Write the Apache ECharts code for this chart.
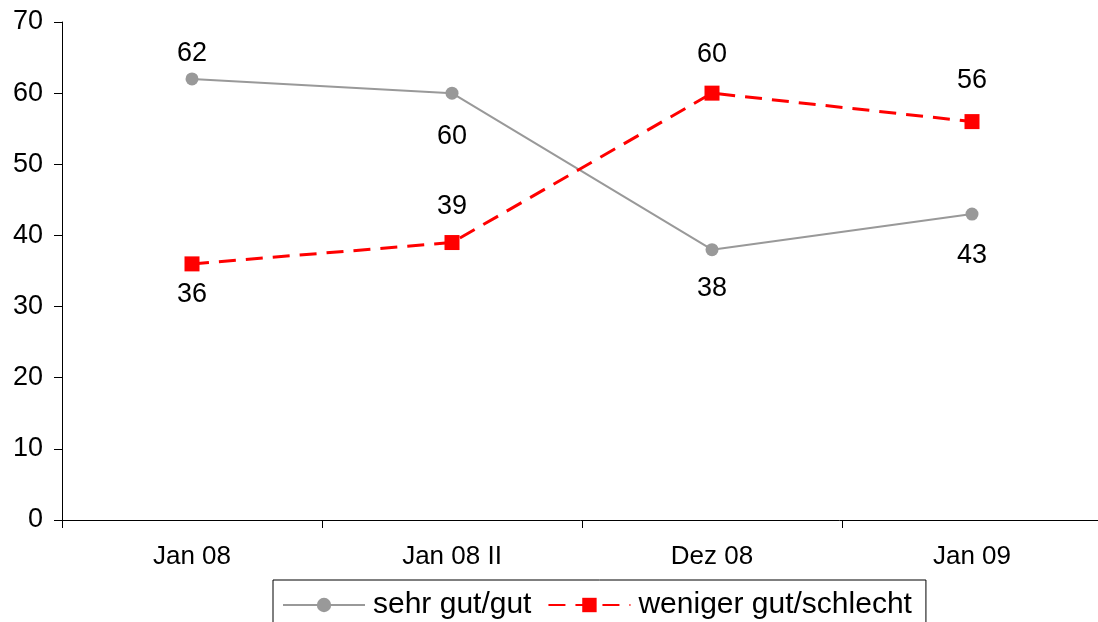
<!DOCTYPE html>
<html>
<head>
<meta charset="utf-8">
<script src="https://cdn.jsdelivr.net/npm/echarts@6/dist/echarts.min.js"></script>
<style>
  html, body { margin: 0; padding: 0; background: #fff; }
  #chart { width: 1098px; height: 622px; }
</style>
</head>
<body>
<div id="chart"></div>
<script>
// Survey categories and shares (%)
const categories = ['Jan 08', 'Jan 08 II', 'Dez 08', 'Jan 09'];
const seriesNames = ['sehr gut/gut', 'weniger gut/schlecht'];
const sehrGutGut = [62, 60, 38, 43];
const wenigerGutSchlecht = [36, 39, 60, 56];
const yTicks = [0, 10, 20, 30, 40, 50, 60, 70];

// Vertical offsets of each value label from its point (px, + = below)
const grayLabelDy = [-25, 43, 39, 41];
const redLabelDy = [31, -36, -39, -41];

const font = 'Liberation Sans, Arial, sans-serif';

function withLabels(values, dys) {
  return values.map((v, i) => ({
    value: v,
    label: { offset: [0, dys[i]] }
  }));
}

const chart = echarts.init(document.getElementById('chart'), null, { renderer: 'canvas' });
chart.setOption({
  animation: false,
  backgroundColor: '#fff',
  grid: { left: 62, width: 1040, top: 22, bottom: 102, outerBoundsMode: 'none', containLabel: false },
  xAxis: {
    type: 'category',
    data: categories,
    boundaryGap: true,
    axisLine: { lineStyle: { color: '#000', width: 1 } },
    axisTick: { show: true, length: 8, inside: false, lineStyle: { color: '#000' } },
    axisLabel: { color: '#000', fontFamily: font, fontSize: 26, margin: 24 },
    splitLine: { show: false }
  },
  yAxis: {
    type: 'value',
    min: yTicks[0],
    max: yTicks[yTicks.length - 1],
    interval: 10,
    axisLine: { show: true, lineStyle: { color: '#000', width: 1 } },
    axisTick: { show: true, length: 8, lineStyle: { color: '#000' } },
    axisLabel: { color: '#000', fontFamily: font, fontSize: 27, margin: 19 },
    splitLine: { show: false }
  },
  legend: {
    left: 273,
    top: 580,
    orient: 'horizontal',
    padding: [10, 14, 10, 9],
    itemGap: 16,
    itemWidth: 82,
    itemHeight: 18,
    borderColor: '#000',
    borderWidth: 1,
    backgroundColor: '#fff',
    textStyle: { color: '#000', fontFamily: font, fontSize: 30, padding: [0, 0, 0, 3] },
    data: seriesNames
  },
  series: [
    {
      name: seriesNames[0],
      type: 'line',
      data: withLabels(sehrGutGut, grayLabelDy),
      symbol: 'circle',
      symbolSize: 13,
      itemStyle: { color: '#999999' },
      lineStyle: { color: '#999999', width: 2 },
      label: {
        show: true,
        position: 'inside',
        color: '#000',
        fontFamily: font,
        fontSize: 27
      }
    },
    {
      name: seriesNames[1],
      type: 'line',
      data: withLabels(wenigerGutSchlecht, redLabelDy),
      symbol: 'rect',
      symbolSize: 15,
      itemStyle: { color: '#ff0000' },
      lineStyle: { color: '#ff0000', width: 3, type: [17, 10] },
      label: {
        show: true,
        position: 'inside',
        color: '#000',
        fontFamily: font,
        fontSize: 27
      }
    }
  ]
});
</script>
</body>
</html>
